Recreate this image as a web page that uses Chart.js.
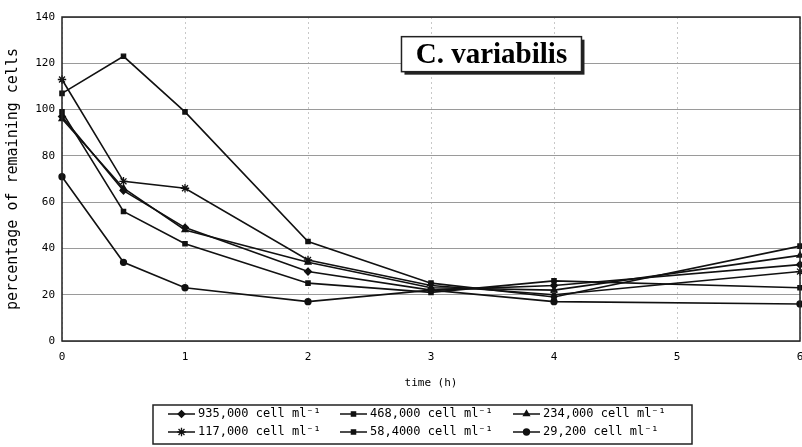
<!DOCTYPE html>
<html>
<head>
<meta charset="utf-8">
<script src="https://cdn.jsdelivr.net/npm/chart.js@4/dist/chart.umd.min.js"></script>
<style>
  html, body { margin: 0; padding: 0; background: #fff; }
  #wrap { width: 802px; height: 447px; }
</style>
</head>
<body>
<div id="wrap"><canvas id="graf"></canvas></div>
<script>
// time points (h)
const tiempos = [0, 0.5, 1, 2, 3, 4, 6];

const etiquetas = [
  '935,000 cell ml\u207B\u00B9',
  '468,000 cell ml\u207B\u00B9',
  '234,000 cell ml\u207B\u00B9',
  '117,000 cell ml\u207B\u00B9',
  '58,4000 cell ml\u207B\u00B9',
  '29,200 cell ml\u207B\u00B9'
];

// percentage of remaining cells
const c935 = [97, 65, 49, 30, 22, 24, 33];
const c468 = [107, 123, 99, 43, 25, 19, 41];
const c234 = [96, 66, 48, 34, 23, 22, 37];
const c117 = [113, 69, 66, 35, 24, 20, 30];
const c584 = [99, 56, 42, 25, 21, 26, 23];
const c292 = [71, 34, 23, 17, 22, 17, 16];

const yTicks = [0, 20, 40, 60, 80, 100, 120, 140];

const series = [c935, c468, c234, c117, c584, c292];
const marcas = ['rectRot', 'rect', 'triangle', 'star', 'rect', 'circle'];
const radios = [3.4, 3, 3.4, 4.2, 3, 3];

const fuente = '"DejaVu Sans Mono", monospace';

const datasets = series.map((s, i) => ({
  label: etiquetas[i],
  data: s.map((v, j) => ({ x: tiempos[j], y: v })),
  borderColor: '#111',
  backgroundColor: '#111',
  borderWidth: 1.6,
  pointStyle: marcas[i],
  pointRadius: radios[i],
  pointBorderWidth: 1.3,
  tension: 0,
  clip: 8
}));

// frame, title box and legend
const extras = {
  id: 'extras',
  afterDatasetsDraw(chart) {
    const ctx = chart.ctx;
    const a = chart.chartArea;
    ctx.save();
    ctx.strokeStyle = '#222';
    ctx.lineWidth = 1.5;
    ctx.strokeRect(a.left, a.top, a.right - a.left, a.bottom - a.top);

    // title box
    const xs = chart.scales.x, ys = chart.scales.y;
    const bx = xs.getPixelForValue(2.76), by = ys.getPixelForValue(131.5);
    const bw = 180, bh = 35;
    ctx.fillStyle = '#222';
    ctx.fillRect(bx + 3, by + 3, bw, bh);
    ctx.fillStyle = '#fff';
    ctx.fillRect(bx, by, bw, bh);
    ctx.lineWidth = 1.5;
    ctx.strokeRect(bx, by, bw, bh);
    ctx.fillStyle = '#000';
    ctx.font = 'bold 29px "Liberation Serif", serif';
    ctx.textAlign = 'center';
    ctx.textBaseline = 'middle';
    ctx.fillText('C. variabilis', bx + bw / 2, by + bh / 2 + 1);
    ctx.restore();
  },
  afterDraw(chart) {
    const ctx = chart.ctx;
    ctx.save();
    ctx.strokeStyle = '#222';
    ctx.lineWidth = 1.5;
    ctx.strokeRect(153, 405, 539, 39);
    const colLine = [168, 340, 513];
    const filas = [414, 432];
    ctx.font = '12px ' + fuente;
    ctx.textBaseline = 'middle';
    ctx.textAlign = 'left';
    chart.data.datasets.forEach((d, i) => {
      const x0 = colLine[i % 3];
      const y0 = filas[Math.floor(i / 3)];
      ctx.strokeStyle = '#111';
      ctx.lineWidth = 1.5;
      ctx.beginPath();
      ctx.moveTo(x0, y0);
      ctx.lineTo(x0 + 27, y0);
      ctx.stroke();
      ctx.fillStyle = '#111';
      ctx.lineWidth = 1.3;
      Chart.helpers.drawPoint(ctx, { pointStyle: d.pointStyle, radius: d.pointRadius, rotation: 0, borderWidth: 1.3 }, x0 + 13.5, y0);
      ctx.fillStyle = '#000';
      ctx.fillText(d.label, x0 + 30, y0);
    });
    ctx.restore();
  }
};

new Chart(document.getElementById('graf'), {
  type: 'line',
  data: { datasets },
  options: {
    responsive: true,
    maintainAspectRatio: false,
    animation: false,
    layout: {
      autoPadding: false,
      padding: { top: 17, right: 2, bottom: 60, left: 0 }
    },
    scales: {
      x: {
        type: 'linear',
        min: 0,
        max: 6,
        afterFit: s => { s.height = 46; s.paddingRight = 0; s.paddingLeft = 0; },
        ticks: {
          stepSize: 1,
          color: '#000',
          padding: 10,
          font: { family: fuente, size: 11 }
        },
        grid: {
          color: '#c8c8c8',
          lineWidth: 1,
          drawTicks: false
        },
        border: { display: false, dash: [2, 3] },
        title: {
          display: true,
          text: 'time (h)',
          color: '#000',
          padding: { top: 16, bottom: -3 },
          font: { family: fuente, size: 11 }
        }
      },
      y: {
        min: 0,
        max: 140,
        afterFit: s => { s.width = 62; },
        afterBuildTicks: s => { s.ticks = yTicks.map(v => ({ value: v })); },
        ticks: {
          color: '#000',
          padding: 7,
          font: { family: fuente, size: 11 }
        },
        grid: {
          color: '#9a9a9a',
          lineWidth: 1,
          drawTicks: false
        },
        border: { display: false },
        title: {
          display: true,
          text: 'percentage of remaining cells',
          color: '#000',
          padding: { bottom: 2 },
          font: { family: fuente, size: 15 }
        }
      }
    },
    plugins: {
      legend: { display: false },
      tooltip: { enabled: false }
    }
  },
  plugins: [extras]
});
</script>
</body>
</html>
